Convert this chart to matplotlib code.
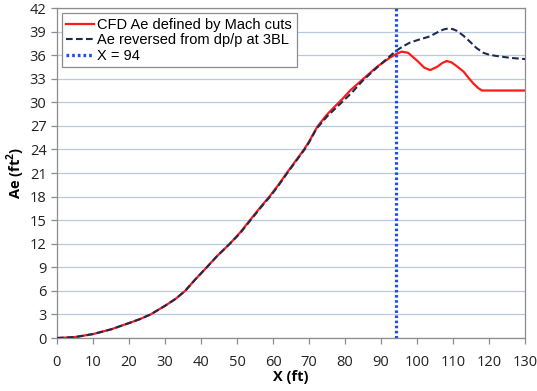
import matplotlib
matplotlib.use("Agg")
import matplotlib.pyplot as plt
from matplotlib.lines import Line2D

# CFD equivalent area from Mach cuts
x_cfd = [0, 5, 10, 15, 20, 23, 26, 30, 33, 35.6, 38.3, 41.6, 44.4, 48, 50.8, 53.6,
         56.4, 59, 61.5, 63.8, 66.2, 68.6, 70, 71.2, 72.3, 74.9, 77, 79.1, 81.4,
         85.1, 88.8, 92.5, 94, 95.7, 97.5, 100, 102, 103.6, 105.5, 107, 108.2,
         109.5, 111, 112.9, 114.3, 115.6, 117, 118, 122, 126, 130]
ae_cfd = [0, 0.12, 0.5, 1.1, 1.9, 2.4, 3.0, 4.1, 5.0, 6.0, 7.4, 9.0, 10.4, 12.0, 13.4,
          15.0, 16.6, 18.0, 19.5, 21.0, 22.5, 24.0, 25.0, 26.0, 26.9, 28.4, 29.4,
          30.35, 31.5, 33.0, 34.5, 35.7, 36.1, 36.45, 36.3, 35.3, 34.4, 34.1, 34.5,
          35.0, 35.25, 35.1, 34.6, 33.9, 33.1, 32.4, 31.8, 31.5, 31.5, 31.5, 31.5]

# Equivalent area reversed from dp/p at 3 body lengths
x_rev = [0, 5, 10, 15, 20, 23, 26, 30, 33, 35.6, 38.3, 41.6, 44.4, 48, 50.8, 53.6,
         56.4, 59, 61.5, 63.8, 66.2, 68.6, 70, 72, 75, 77.5, 80, 82, 85, 88.8,
         92.5, 94, 96, 98, 100, 103.6, 105, 106.4, 107.6, 108.7, 110, 111, 112.8,
         114.7, 116.5, 118.4, 120, 122, 126, 130]
ae_rev = [0, 0.12, 0.5, 1.1, 1.9, 2.4, 3.0, 4.1, 5.0, 6.0, 7.4, 9.0, 10.4, 12.0, 13.3,
          14.9, 16.5, 17.9, 19.4, 20.9, 22.4, 23.9, 24.9, 26.6, 28.2, 29.3, 30.4,
          31.3, 32.8, 34.4, 35.9, 36.5, 37.1, 37.6, 37.9, 38.4, 38.75, 39.1, 39.3,
          39.4, 39.3, 39.1, 38.5, 37.7, 36.9, 36.3, 36.05, 35.9, 35.65, 35.5]

x_mark = 94
x_ticks = list(range(0, 131, 10))
y_ticks = list(range(0, 43, 3))

red = "#ff1a1a"
navy = "#1c2b4f"
blue = "#1f4fe6"
grid_c = "#b9c9df"
frame_c = "#8c8c8c"

fig = plt.figure(figsize=(5.37, 3.91), dpi=100)
ax = fig.add_axes([0.106, 0.1355, 0.872, 0.844])

ax.plot(x_cfd, ae_cfd, color=red, lw=1.6, zorder=3)
ax.plot(x_rev, ae_rev, color=navy, lw=1.5, ls=(0, (3.2, 1.6)), zorder=4)
ax.axvline(x_mark, color=blue, lw=2.3, ls=(0, (0.8, 0.8)), zorder=5)

ax.set_xlim(0, 130)
ax.set_ylim(0, 42)
ax.set_xticks(x_ticks)
ax.set_yticks(y_ticks)
ax.yaxis.grid(True, color=grid_c, lw=0.9)
ax.set_axisbelow(True)

for s in ax.spines.values():
    s.set_color(frame_c)
    s.set_linewidth(0.9)
ax.tick_params(axis="both", colors=frame_c, length=4, width=0.9, labelcolor="#222222",
               labelsize=10.5)
for lab in ax.get_xticklabels() + ax.get_yticklabels():
    lab.set_family("Open Sans")
ax.tick_params(axis="x", pad=8)

ax.set_xlabel("X (ft)", fontsize=10.5, fontweight="bold", family="Open Sans", labelpad=0)
ax.set_ylabel("Ae (ft$^\\mathregular{2}$)", fontsize=10.5, fontweight="bold",
              family="Open Sans", labelpad=2)

handles = [
    Line2D([], [], color=red, lw=1.6),
    Line2D([], [], color=navy, lw=1.5, ls=(0, (3.2, 1.6))),
    Line2D([], [], color=blue, lw=2.4, ls=(0, (0.8, 0.9))),
]
labels = ["CFD Ae defined by Mach cuts", "Ae reversed from dp/p at 3BL", "X = 94"]
leg = ax.legend(handles, labels, loc="upper left", bbox_to_anchor=(0.004, 0.993),
                prop={"family": "Liberation Sans", "size": 10.5}, frameon=True,
                fancybox=False, edgecolor=frame_c, framealpha=1, handlelength=1.9,
                handletextpad=0.25, borderpad=0.3, labelspacing=0.12, borderaxespad=0.2)
leg.get_frame().set_linewidth(0.9)

fig.savefig("out.png", dpi=100)
